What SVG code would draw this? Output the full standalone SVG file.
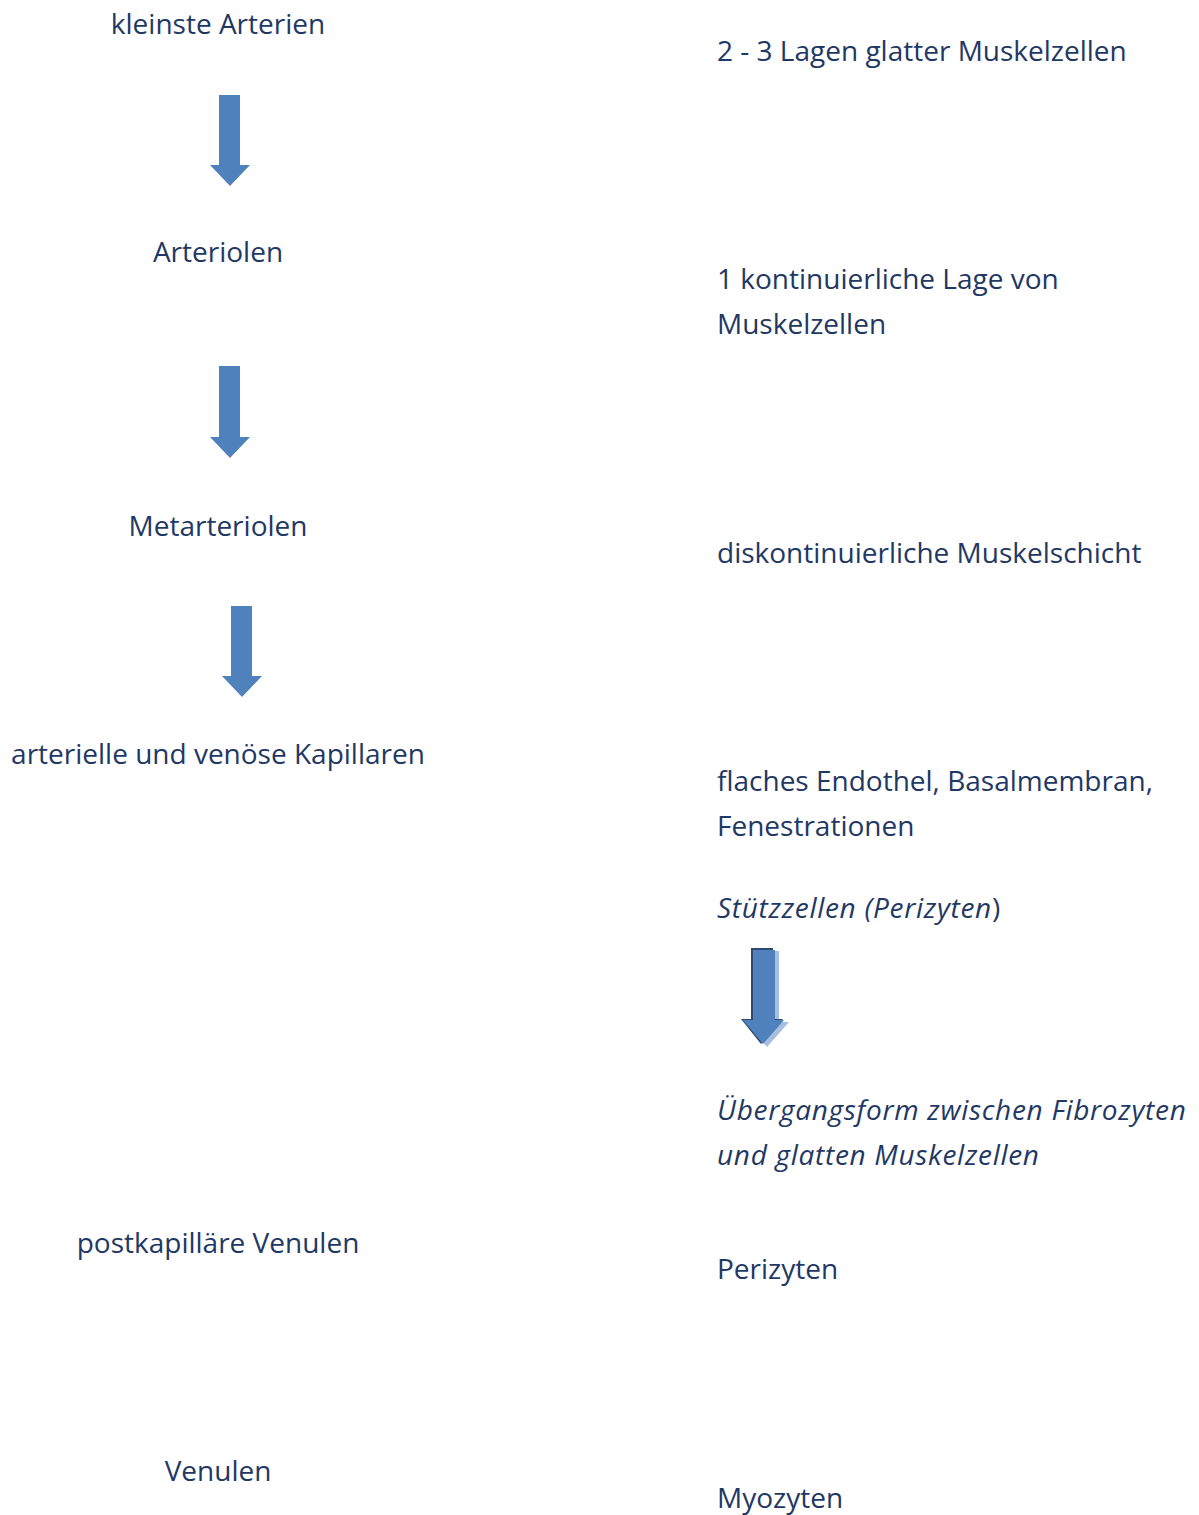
<svg xmlns="http://www.w3.org/2000/svg" width="1199" height="1515" viewBox="0 0 1199 1515">
<defs>
<style>
text{font-family:"Open Sans","Noto Sans","Liberation Sans",sans-serif;font-size:28px;fill:#1F3864}
.c{text-anchor:middle}
.i{font-style:italic;letter-spacing:0.7px}
.arr{fill:#4F81BD}
</style>
</defs>
<rect width="1199" height="1515" fill="#fff"/>
<g id="n-kleinste"><text class="c" x="218" y="34">kleinste Arterien</text></g>
<g id="n-arteriolen"><text class="c" x="218" y="262">Arteriolen</text></g>
<g id="n-metarteriolen"><text class="c" x="218" y="536">Metarteriolen</text></g>
<g id="n-kapillaren"><text class="c" x="218" y="764">arterielle und venöse Kapillaren</text></g>
<g id="n-postkap"><text class="c" x="218" y="1253">postkapilläre Venulen</text></g>
<g id="n-venulen"><text class="c" x="218" y="1481">Venulen</text></g>
<g id="d-1"><text x="717" y="61">2 - 3 Lagen glatter Muskelzellen</text></g>
<g id="d-2"><text x="717" y="289">1 kontinuierliche Lage von</text><text x="717" y="334">Muskelzellen</text></g>
<g id="d-3"><text x="717" y="563">diskontinuierliche Muskelschicht</text></g>
<g id="d-4"><text x="717" y="791">flaches Endothel, Basalmembran,</text><text x="717" y="836">Fenestrationen</text></g>
<g id="d-5"><text x="717" y="918"><tspan class="i">Stützzellen (Perizyten</tspan>)</text></g>
<g id="d-6"><text class="i" x="717" y="1120">Übergangsform zwischen Fibrozyten</text><text class="i" x="717" y="1165">und glatten Muskelzellen</text></g>
<g id="d-7"><text x="717" y="1279">Perizyten</text></g>
<g id="d-8"><text x="717" y="1508">Myozyten</text></g>
<g id="connectors">
<polygon class="arr" points="219,95 240,95 240,165 250,165 230,186 210,165 219,165"/>
<polygon class="arr" points="219,366 240,366 240,437 250,437 230,458 210,437 219,437"/>
<polygon class="arr" points="231,606 252,606 252,676 262,676 242,697 222,676 231,676"/>
<g id="arrow-peri">
<polygon fill="#A7BFDE" points="755,951 779,951 779,1022 789,1022 767,1047 745,1022 755,1022"/>
<polygon fill="#2E4A6E" points="751,948 773,948 773,1019 783,1019 761,1044 741,1019 751,1019"/>
<polygon class="arr" points="753,950 775,950 775,1020 784,1020 763,1044 743,1020 753,1020"/>
</g>
</g>
</svg>
